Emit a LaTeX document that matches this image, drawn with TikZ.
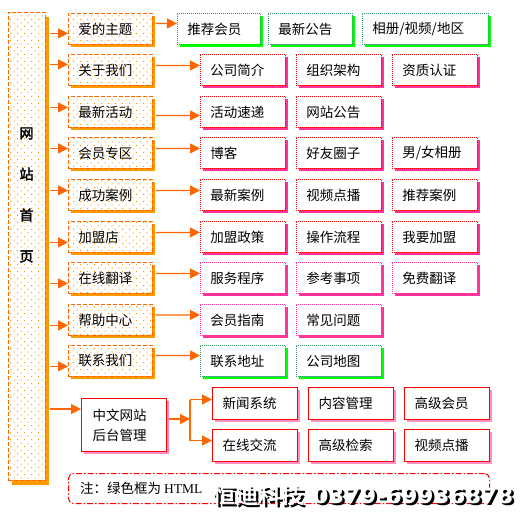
\documentclass[tikz,border=0pt]{standalone}
\usepackage{fontspec}
\usepackage{graphicx}
\usetikzlibrary{arrows.meta,patterns,shadows,calc}
\newfontfamily\cjk{Noto Sans CJK SC}
\newfontfamily\cjkbf[FakeBold=2.5]{Noto Sans CJK SC}
\newfontfamily\serifl{Liberation Serif}
\newfontfamily\wmfont{DejaVu Sans}
\definecolor{lineor}{HTML}{FF6600}
\definecolor{shador}{HTML}{FF9900}
\definecolor{dotor}{HTML}{FF9900}
\definecolor{redb}{HTML}{FF0000}
\definecolor{pinks}{HTML}{FF3399}
\definecolor{pinkb}{HTML}{FF3399}
\definecolor{greenb}{HTML}{339966}
\definecolor{greens}{HTML}{00FF00}
\pgfdeclarepatternformonly{sitedots}{\pgfqpoint{-1pt}{-1pt}}{\pgfqpoint{5pt}{5pt}}{\pgfqpoint{7pt}{7pt}}{%
  \pgfpathrectangle{\pgfqpoint{-0.5pt}{-0.5pt}}{\pgfqpoint{1pt}{1pt}}%
  \pgfpathrectangle{\pgfqpoint{3pt}{3pt}}{\pgfqpoint{1pt}{1pt}}%
  \pgfusepath{fill}}
\newcommand{\wmtext}{\resizebox{301pt}{\height}{\cjkbf\fontsize{21pt}{24pt}\selectfont 恒迪科技\hspace{8pt}\wmfont\bfseries 0379-69936878}}
\tikzset{
  txt/.style={font=\cjk\fontsize{13.5pt}{16pt}\selectfont},
  lvone/.style={txt, anchor=north west, draw=lineor, line width=0.8pt, dash pattern=on 4pt off 2pt,
    general shadow={fill=shador, shadow xshift=3pt, shadow yshift=-3pt},
    preaction={fill=white}, pattern=sitedots, pattern color=dotor,
    text width=64pt, inner xsep=10pt, inner ysep=0pt, minimum height=31pt, align=left},
  lvtwo/.style 2 args={txt, anchor=north west, draw=#1, line width=0.9pt, dash pattern=on 1pt off 1pt, fill=white,
    general shadow={fill=#2, shadow xshift=3pt, shadow yshift=-3pt},
    text width=65pt, inner xsep=10pt, inner ysep=0pt, minimum height=31pt, align=left},
  redbox/.style={lvtwo={redb}{pinks}},
  pinkbox/.style={lvtwo={pinkb}{pinks}},
  greenbox/.style={lvtwo={greenb}{greens}},
  adminbox/.style={txt, anchor=north west, draw=redb, line width=1pt, fill=white,
    general shadow={fill=pinkb!55, shadow xshift=2pt, shadow yshift=-2pt},
    text width=65pt, inner xsep=10pt, inner ysep=0pt, minimum height=32pt, align=left},
  arr/.style={draw=lineor, line width=1.2pt, -{Triangle[length=10pt,width=10pt]}},
  ln/.style={draw=lineor, line width=1.2pt},
}
\begin{document}
\begin{tikzpicture}[x=1pt,y=-1pt]
\useasboundingbox (0,0) rectangle (524,520);
\fill[white] (0,0) rectangle (524,520);
% home box
\node[anchor=north west, draw=lineor, line width=0.8pt, dash pattern=on 4pt off 2pt,
  general shadow={fill=shador, shadow xshift=4pt, shadow yshift=-5pt},
  preaction={fill=white}, pattern=sitedots, pattern color=dotor,
  minimum width=37pt, minimum height=468pt, inner sep=0pt] (home) at (8,12) {};
\node[font=\cjkbf\fontsize{14pt}{41pt}\selectfont, align=center, inner sep=0pt] (title) at (26.5,195) {网\\站\\首\\页};
\coordinate (trunk) at ([xshift=4pt]home.north east);
% level one
\node[lvone] (a1) at (68,13) {爱的主题};
\node[lvone] (a2) at (68,54) {关于我们};
\node[lvone] (a3) at (68,96) {最新活动};
\node[lvone] (a4) at (68,137) {会员专区};
\node[lvone] (a5) at (68,179) {成功案例};
\node[lvone] (a6) at (68,221) {加盟店};
\node[lvone] (a7) at (68,262) {在线翻译};
\node[lvone] (a8) at (68,304) {帮助中心};
\node[lvone] (a9) at (68,345) {联系我们};
% level two
\node[greenbox, text width=63pt] (b11) at (177,13) {推荐会员};
\node[greenbox, text width=64pt] (b12) at (268,13) {最新公告};
\node[greenbox, text width=106pt] (b13) at (362,13) {相册/视频/地区};
\node[redbox] (b21) at (200,54) {公司简介};
\node[redbox] (b22) at (296,54) {组织架构};
\node[redbox] (b23) at (392,54) {资质认证};
\node[redbox] (b31) at (200,96) {活动速递};
\node[redbox] (b32) at (296,96) {网站公告};
\node[redbox] (b41) at (200,137) {博客};
\node[redbox] (b42) at (296,137) {好友圈子};
\node[redbox] (b43) at (392,137) {男/女相册};
\node[redbox] (b51) at (200,179) {最新案例};
\node[redbox] (b52) at (296,179) {视频点播};
\node[redbox] (b53) at (392,179) {推荐案例};
\node[redbox] (b61) at (200,221) {加盟政策};
\node[redbox] (b62) at (296,221) {操作流程};
\node[redbox] (b63) at (392,221) {我要加盟};
\node[pinkbox] (b71) at (200,262) {服务程序};
\node[pinkbox] (b72) at (296,262) {参考事项};
\node[pinkbox] (b73) at (392,262) {免费翻译};
\node[pinkbox] (b81) at (200,304) {会员指南};
\node[pinkbox] (b82) at (296,304) {常见问题};
\node[greenbox] (b91) at (200,345) {联系地址};
\node[greenbox] (b92) at (296,345) {公司地图};
% arrows
\foreach \r/\ta/\tb in {1/-4.5pt/5.5pt, 2/5.5pt/4.5pt, 3/4.5pt/-3.5pt, 4/4.5pt/4.5pt, 5/4.5pt/4.5pt, 6/-5.5pt/4.5pt, 7/-5.5pt/4.5pt, 8/-5.5pt/5pt, 9/-5.5pt/5.5pt}{
  \draw[arr] ($(a\r.west -| trunk)+(0pt,\ta)$) -- ($(a\r.west)+(0pt,\ta)$);
  \draw[arr] ($(a\r.east)+(3pt,\tb)$) -- ($(b\r1.west)+(0pt,\tb)$);
}
% admin
\node[adminbox, text width=63pt, minimum height=53pt, inner xsep=11pt, font=\cjk\fontsize{13.5pt}{20pt}\selectfont] (c0) at (81,398) {中文网站\\后台管理};
\node[adminbox] (d11) at (212,387) {新闻系统};
\node[adminbox] (d12) at (308,387) {内容管理};
\node[adminbox] (d13) at (404,387) {高级会员};
\node[adminbox] (d21) at (212,429) {在线交流};
\node[adminbox] (d22) at (308,429) {高级检索};
\node[adminbox] (d23) at (404,429) {视频点播};
\coordinate (c0in) at ($(c0.west)+(0pt,16pt)$);
\draw[arr] (c0in -| trunk) -- (c0in);
\coordinate (j) at ($(c0.east)+(23pt,6pt)$);
\draw[arr] ($(c0.east)+(2pt,6pt)$) -- (j);
\coordinate (d1in) at ($(d11.west)+(0pt,4pt)$);
\coordinate (d2in) at ($(d21.west)+(0pt,5pt)$);
\draw[ln] (j |- d1in) -- (j |- d2in);
\draw[arr] (j |- d1in) -- (d1in);
\draw[arr] (j |- d2in) -- (d2in);
% note
\node[anchor=north west, draw=redb, line width=1pt, rounded corners=5pt, dash pattern=on 6pt off 2pt on 1.5pt off 2pt,
  minimum height=30pt, minimum width=421pt, inner sep=0pt] (note) at (68,473) {};
\node[anchor=west, inner xsep=0pt, txt] (notetext) at (80,488) {注：绿色框为 {\serifl HTML}};
% watermark (white text with black drop shadow)
\node[anchor=base west, inner sep=0pt, text=white] (wm) at (212,503) {\makebox[0pt][l]{\hspace{2.5pt}\raisebox{-2.5pt}{\color{black}\wmtext}}\wmtext};
\end{tikzpicture}
\end{document}
